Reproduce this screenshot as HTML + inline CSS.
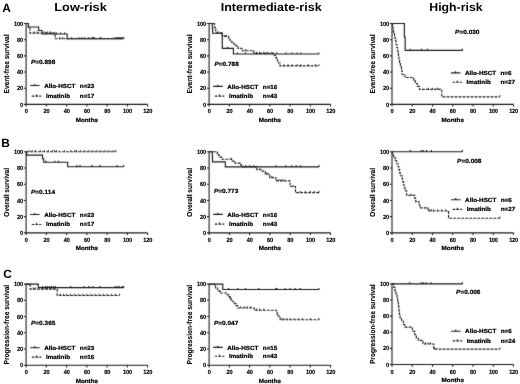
<!DOCTYPE html><html><head><meta charset="utf-8"><style>html,body{margin:0;padding:0;background:#fff;}svg{display:block}</style></head><body>
<svg style="filter:grayscale(1)" width="520" height="384" viewBox="0 0 520 384" font-family="Liberation Sans, sans-serif" font-weight="bold" text-rendering="geometricPrecision">
<rect width="520" height="384" fill="#fff"/>
<defs><filter id="bl" x="0" y="0" width="520" height="384" filterUnits="userSpaceOnUse" color-interpolation-filters="sRGB"><feConvolveMatrix order="3" kernelMatrix="0.0100 0.0800 0.0100 0.0800 0.6400 0.0800 0.0100 0.0800 0.0100" divisor="1" preserveAlpha="false" edgeMode="none"/></filter></defs>
<g filter="url(#bl)">
<path d="M26.1 23.5V106.6M23.9 104.4H147.6M23.9 104.4H26.1M23.9 88.22H26.1M23.9 72.04H26.1M23.9 55.86H26.1M23.9 39.68H26.1M23.9 23.5H26.1M46.35 104.4V106.6M66.6 104.4V106.6M86.85 104.4V106.6M107.1 104.4V106.6M127.35 104.4V106.6M147.6 104.4V106.6" stroke="#1a1a1a" stroke-width="1.08" fill="none"/>
<path d="M26.1 23.5H28.43V26.98H38.66V30.54H42.1V34.02H67.11V38.79H122.79M46.35 34.02v-1.6M50.4 34.02v-1.6M52.42 34.02v-1.6M56.48 34.02v-1.6M60.52 34.02v-1.6M64.58 34.02v-1.6M81.79 38.79v-1.6M88.88 38.79v-1.6M92.93 38.79v-1.6M93.94 38.79v-1.6M101.03 38.79v-1.6M116.21 38.79v-1.6M118.24 38.79v-1.6M120.26 38.79v-1.6M122.79 38.79v-1.6" stroke="#1a1a1a" stroke-width="1.15" fill="none"/>
<path d="M26.1 23.5H28.43V28.27H29.95V33.05H55.16V38.79H123.81" stroke="#1a1a1a" stroke-width="1.15" fill="none" stroke-dasharray="2.8 1.2"/>
<path d="M34.2 33.05v-1.6M37.24 33.05v-1.6M44.33 33.05v-1.6M47.36 33.05v-1.6M50.4 33.05v-1.6M59.51 38.79v-1.6M62.55 38.79v-1.6M71.66 38.79v-1.6M78.75 38.79v-1.6M84.82 38.79v-1.6M91.91 38.79v-1.6M93.94 38.79v-1.6M100.01 38.79v-1.6M114.19 38.79v-1.6M117.22 38.79v-1.6M119.25 38.79v-1.6M121.28 38.79v-1.6M123.81 38.79v-1.6" stroke="#1a1a1a" stroke-width="1.0" fill="none"/>
<path d="M209.1 23.5V106.6M206.9 104.4H330.6M206.9 104.4H209.1M206.9 88.22H209.1M206.9 72.04H209.1M206.9 55.86H209.1M206.9 39.68H209.1M206.9 23.5H209.1M229.35 104.4V106.6M249.6 104.4V106.6M269.85 104.4V106.6M290.1 104.4V106.6M310.35 104.4V106.6M330.6 104.4V106.6" stroke="#1a1a1a" stroke-width="1.08" fill="none"/>
<path d="M209.1 23.5H212.34V28.56H212.64V33.21H222.26V48.42H233.4V54H318.96M227.83 48.42v-1.6M237.45 54v-1.6M245.35 54v-1.6M276.74 54v-1.6M286.05 54v-1.6M292.12 54v-1.6M297.19 54v-1.6M300.73 54v-1.6M318.96 54v-1.6" stroke="#1a1a1a" stroke-width="1.15" fill="none"/>
<path d="M209.1 23.5H214.47V27.3H215.17V29.16H215.78V31.02H216.39V32.88H221.86V34.75H222.47V36.44H228.74V38.39H229.86V40.25H231.38V42.19H233.91V44.05H235.93V45.91H238.06V48.34H241.91V50.76H253.85V53.43H274.2V55.29H275.42V57.24H276.43V59.1H277.44V61.04H278.46V62.98H279.98V65.89H318.96" stroke="#1a1a1a" stroke-width="1.15" fill="none" stroke-dasharray="2.8 1.2"/>
<path d="M218.21 32.88v-1.6M224.29 36.44v-1.6M226.31 36.44v-1.6M245.55 50.76v-1.6M256.69 53.43v-1.6M259.73 53.43v-1.6M263.77 53.43v-1.6M266.81 53.43v-1.6M271.88 53.43v-1.6M284.02 65.89v-1.6M288.07 65.89v-1.6M292.12 65.89v-1.6M297.19 65.89v-1.6M300.73 65.89v-1.6M308.32 65.89v-1.6M315.41 65.89v-1.6M318.96 65.89v-1.6" stroke="#1a1a1a" stroke-width="1.0" fill="none"/>
<path d="M392 23.5V106.6M389.8 104.4H513.5M389.8 104.4H392M389.8 88.22H392M389.8 72.04H392M389.8 55.86H392M389.8 39.68H392M389.8 23.5H392M412.25 104.4V106.6M432.5 104.4V106.6M452.75 104.4V106.6M473 104.4V106.6M493.25 104.4V106.6M513.5 104.4V106.6" stroke="#1a1a1a" stroke-width="1.08" fill="none"/>
<path d="M392 23.5H404.35V37.01H405.16V50.44H462.47M410.23 50.44v-1.6M421.36 50.44v-1.6M427.44 50.44v-1.6M462.47 50.44v-1.6" stroke="#1a1a1a" stroke-width="1.15" fill="none"/>
<path d="M392 23.5H392.51V26.49H393.01V29.49H393.52V32.48H394.53V35.47H395.04V38.47H395.64V41.46H396.05V44.45H396.86V47.45H397.47V50.44H397.87V53.43H398.38V56.43H398.88V59.42H399.59V62.41H400.4V65.49H401.42V68.48H401.92V71.47H402.23V74.47H404.96V77.46H413.77V80.45H415.29V83.45H417.31V86.44H419.34V89.43H441.81V96.88H499.83" stroke="#1a1a1a" stroke-width="1.15" fill="none" stroke-dasharray="2.8 1.2"/>
<path d="M428.45 89.43v-1.6M432.7 89.43v-1.6M437.46 89.43v-1.6M499.83 96.88v-1.6" stroke="#1a1a1a" stroke-width="1.0" fill="none"/>
<path d="M26.1 151.7V235.1M23.9 232.9H147.6M23.9 232.9H26.1M23.9 216.66H26.1M23.9 200.42H26.1M23.9 184.18H26.1M23.9 167.94H26.1M23.9 151.7H26.1M46.35 232.9V235.1M66.6 232.9V235.1M86.85 232.9V235.1M107.1 232.9V235.1M127.35 232.9V235.1M147.6 232.9V235.1" stroke="#1a1a1a" stroke-width="1.08" fill="none"/>
<path d="M26.1 151.7H26.71V155.19H42.5V158.76H43.72V162.26H67.71V166.72H123.71M45.95 162.26v-1.6M54.75 162.26v-1.6M58.5 162.26v-1.6M76.93 166.72v-1.6M79.97 166.72v-1.6M91.91 166.72v-1.6M100.01 166.72v-1.6M117.22 166.72v-1.6M123.71 166.72v-1.6" stroke="#1a1a1a" stroke-width="1.15" fill="none"/>
<path d="M26.1 151.7H115.71" stroke="#1a1a1a" stroke-width="1.15" fill="none" stroke-dasharray="2.8 1.2"/>
<path d="M29.14 151.7v-1.6M32.17 151.7v-1.6M35.21 151.7v-1.6M40.27 151.7v-1.6M44.33 151.7v-1.6M48.38 151.7v-1.6M52.42 151.7v-1.6M54.45 151.7v-1.6M56.48 151.7v-1.6M64.58 151.7v-1.6M70.65 151.7v-1.6M74.7 151.7v-1.6M76.72 151.7v-1.6M80.78 151.7v-1.6M84.82 151.7v-1.6M88.88 151.7v-1.6M92.93 151.7v-1.6M96.97 151.7v-1.6M101.03 151.7v-1.6M105.07 151.7v-1.6M109.12 151.7v-1.6M113.18 151.7v-1.6M115.71 151.7v-1.6" stroke="#1a1a1a" stroke-width="1.0" fill="none"/>
<path d="M209.1 151.7V235.1M206.9 232.9H330.6M206.9 232.9H209.1M206.9 216.66H209.1M206.9 200.42H209.1M206.9 184.18H209.1M206.9 167.94H209.1M206.9 151.7H209.1M229.35 232.9V235.1M249.6 232.9V235.1M269.85 232.9V235.1M290.1 232.9V235.1M310.35 232.9V235.1M330.6 232.9V235.1" stroke="#1a1a1a" stroke-width="1.08" fill="none"/>
<path d="M209.1 151.7H212.34V156.77H212.54V161.85H225.3V166.92H319.06M275.82 166.92v-1.6M285.75 166.92v-1.6M291.82 166.92v-1.6M296.18 166.92v-1.6M300.53 166.92v-1.6M319.06 166.92v-1.6" stroke="#1a1a1a" stroke-width="1.15" fill="none"/>
<path d="M209.1 151.7H217.2V153.57H218.72V155.52H220.24V157.38H221.86V159.25H231.58V161.12H235.02V163.07H240.59V164.94H241.5V166.8H256.79V169.73H262.26V171.19H265.39V174.19H269.75V177.68H275.82V180.93H290V186.53H295.47V192.62H319.06" stroke="#1a1a1a" stroke-width="1.15" fill="none" stroke-dasharray="2.8 1.2"/>
<path d="M231.27 159.25v-1.6M245.55 166.8v-1.6M249.6 166.8v-1.6M253.65 166.8v-1.6M259.73 169.73v-1.6M266.81 174.19v-1.6M271.88 177.68v-1.6M277.95 180.93v-1.6M279.98 180.93v-1.6M282 180.93v-1.6M284.02 180.93v-1.6M293.14 186.53v-1.6M300.23 192.62v-1.6M305.29 192.62v-1.6M310.35 192.62v-1.6M314.4 192.62v-1.6M319.06 192.62v-1.6" stroke="#1a1a1a" stroke-width="1.0" fill="none"/>
<path d="M392 151.7V235.1M389.8 232.9H513.5M389.8 232.9H392M389.8 216.66H392M389.8 200.42H392M389.8 184.18H392M389.8 167.94H392M389.8 151.7H392M412.25 232.9V235.1M432.5 232.9V235.1M452.75 232.9V235.1M473 232.9V235.1M493.25 232.9V235.1M513.5 232.9V235.1" stroke="#1a1a1a" stroke-width="1.08" fill="none"/>
<path d="M392 151.7H462.47M410.43 151.7v-1.6M421.36 151.7v-1.6M423.29 151.7v-1.6M426.43 151.7v-1.6M431.39 151.7v-1.6M462.47 151.7v-1.6" stroke="#1a1a1a" stroke-width="1.15" fill="none"/>
<path d="M392 151.7H392.3V154.7H393.52V157.71H395.34V160.71H396.56V163.72H398.07V166.72H398.88V169.73H399.59V172.73H400.3V175.74H402.12V178.74H402.63V181.74H403.54V184.75H404.15V187.75H404.96V190.76H406.68V195.3H414.78V198.39H415.69V201.56H419.03V204.72H419.84V207.81H428.05V210.98H448.6V218.28H499.93" stroke="#1a1a1a" stroke-width="1.15" fill="none" stroke-dasharray="2.8 1.2"/>
<path d="M411.24 195.3v-1.6M429.46 210.98v-1.6M431.49 210.98v-1.6M433.51 210.98v-1.6M437.56 210.98v-1.6M441.61 210.98v-1.6M445.66 210.98v-1.6M499.93 218.28v-1.6" stroke="#1a1a1a" stroke-width="1.0" fill="none"/>
<path d="M26.1 284.1V367.4M23.9 365.2H147.6M23.9 365.2H26.1M23.9 348.98H26.1M23.9 332.76H26.1M23.9 316.54H26.1M23.9 300.32H26.1M23.9 284.1H26.1M46.35 365.2V367.4M66.6 365.2V367.4M86.85 365.2V367.4M107.1 365.2V367.4M127.35 365.2V367.4M147.6 365.2V367.4" stroke="#1a1a1a" stroke-width="1.08" fill="none"/>
<path d="M26.1 284.1H38.25V287.63H123.71M42.3 287.63v-1.6M45.34 287.63v-1.6M47.36 287.63v-1.6M49.39 287.63v-1.6M51.41 287.63v-1.6M53.44 287.63v-1.6M55.46 287.63v-1.6M70.65 287.63v-1.6M83.81 287.63v-1.6M88.88 287.63v-1.6M92.93 287.63v-1.6M100.01 287.63v-1.6M115.2 287.63v-1.6M117.22 287.63v-1.6M119.25 287.63v-1.6M122.29 287.63v-1.6M123.71 287.63v-1.6" stroke="#1a1a1a" stroke-width="1.15" fill="none"/>
<path d="M26.1 284.1H30.15V289.17H57.18V295.45H119.55" stroke="#1a1a1a" stroke-width="1.15" fill="none" stroke-dasharray="2.8 1.2"/>
<path d="M33.19 289.17v-1.6M35.21 289.17v-1.6M42.3 289.17v-1.6M45.34 289.17v-1.6M47.36 289.17v-1.6M50.4 289.17v-1.6M53.44 289.17v-1.6M60.52 295.45v-1.6M63.56 295.45v-1.6M66.6 295.45v-1.6M70.65 295.45v-1.6M74.7 295.45v-1.6M78.75 295.45v-1.6M82.8 295.45v-1.6M86.85 295.45v-1.6M90.9 295.45v-1.6M94.95 295.45v-1.6M99 295.45v-1.6M103.05 295.45v-1.6M107.1 295.45v-1.6M111.15 295.45v-1.6M115.2 295.45v-1.6M119.55 295.45v-1.6" stroke="#1a1a1a" stroke-width="1.0" fill="none"/>
<path d="M209.1 284.1V367.4M206.9 365.2H330.6M206.9 365.2H209.1M206.9 348.98H209.1M206.9 332.76H209.1M206.9 316.54H209.1M206.9 300.32H209.1M206.9 284.1H209.1M229.35 365.2V367.4M249.6 365.2V367.4M269.85 365.2V367.4M290.1 365.2V367.4M310.35 365.2V367.4M330.6 365.2V367.4" stroke="#1a1a1a" stroke-width="1.08" fill="none"/>
<path d="M209.1 284.1H222.77V289.53H319.06M228.54 289.53v-1.6M237.75 289.53v-1.6M245.45 289.53v-1.6M258.71 289.53v-1.6M275.93 289.53v-1.6M276.94 289.53v-1.6M285.04 289.53v-1.6M290.1 289.53v-1.6M295.16 289.53v-1.6M300.23 289.53v-1.6M319.06 289.53v-1.6" stroke="#1a1a1a" stroke-width="1.15" fill="none"/>
<path d="M209.1 284.1H214.57V285.97H215.58V287.91H217.5V289.78H219.22V291.4H220.54V293.02H227.32V294.81H228.84V296.67H229.86V298.29H230.97V299.91H232.79V301.7H234.41V303.56H235.93V305.59H237.75V308.02H254.26V310.21H276.53V312.49H277.14V314.11H277.75V315.73H278.96V317.76H280.18V319.78H319.06" stroke="#1a1a1a" stroke-width="1.15" fill="none" stroke-dasharray="2.8 1.2"/>
<path d="M230.36 298.29v-1.6M240.49 308.02v-1.6M244.54 308.02v-1.6M247.57 308.02v-1.6M250.61 308.02v-1.6M256.69 310.21v-1.6M259.73 310.21v-1.6M263.77 310.21v-1.6M282 319.78v-1.6M284.02 319.78v-1.6M287.06 319.78v-1.6M290.1 319.78v-1.6M294.15 319.78v-1.6M298.2 319.78v-1.6M302.25 319.78v-1.6M310.35 319.78v-1.6M319.06 319.78v-1.6" stroke="#1a1a1a" stroke-width="1.0" fill="none"/>
<path d="M392 283.9V366.7M389.8 364.5H513.5M389.8 364.5H392M389.8 348.38H392M389.8 332.26H392M389.8 316.14H392M389.8 300.02H392M389.8 283.9H392M412.25 364.5V366.7M432.5 364.5V366.7M452.75 364.5V366.7M473 364.5V366.7M493.25 364.5V366.7M513.5 364.5V366.7" stroke="#1a1a1a" stroke-width="1.08" fill="none"/>
<path d="M392 283.9H462.47M409.72 283.9v-1.6M421.36 283.9v-1.6M423.39 283.9v-1.6M426.12 283.9v-1.6M431.18 283.9v-1.6M462.47 283.9v-1.6" stroke="#1a1a1a" stroke-width="1.15" fill="none"/>
<path d="M392 283.9H393.92V287.53H395.04V290.83H396.05V294.22H397.06V297.68H397.67V300.99H398.28V304.37H398.78V307.76H399.09V311.14H399.39V314.53H400.1V317.91H401.62V321.22H403.44V324.68H404.86V327.18H412.35V331.37H414.78V334.76H416.3V338.22H418.32V340.32H422.98V344.03H433.82V349.19H499.93" stroke="#1a1a1a" stroke-width="1.15" fill="none" stroke-dasharray="2.8 1.2"/>
<path d="M425.41 344.03v-1.6M427.94 344.03v-1.6M430.48 344.03v-1.6M434.52 349.19v-1.6M499.93 349.19v-1.6" stroke="#1a1a1a" stroke-width="1.0" fill="none"/>
<path d="M30.2 85.5h9.5M34.8 85.5v-1.6" stroke="#1a1a1a" stroke-width="1.15" fill="none"/>
<path d="M31.8 96.1h9.5" stroke="#1a1a1a" stroke-width="1.15" fill="none" stroke-dasharray="2.6 1.1"/>
<path d="M36.5 96.1v-1.6" stroke="#1a1a1a" stroke-width="1" fill="none"/>
<path d="M213.2 86.3h9.5M217.8 86.3v-1.6" stroke="#1a1a1a" stroke-width="1.15" fill="none"/>
<path d="M214.8 96.1h9.5" stroke="#1a1a1a" stroke-width="1.15" fill="none" stroke-dasharray="2.6 1.1"/>
<path d="M219.5 96.1v-1.6" stroke="#1a1a1a" stroke-width="1" fill="none"/>
<path d="M450.9 72.8h9.5M455.5 72.8v-1.6" stroke="#1a1a1a" stroke-width="1.15" fill="none"/>
<path d="M452.5 82.2h9.5" stroke="#1a1a1a" stroke-width="1.15" fill="none" stroke-dasharray="2.6 1.1"/>
<path d="M457.2 82.2v-1.6" stroke="#1a1a1a" stroke-width="1" fill="none"/>
<path d="M30.2 214.5h9.5M34.8 214.5v-1.6" stroke="#1a1a1a" stroke-width="1.15" fill="none"/>
<path d="M31.8 224.5h9.5" stroke="#1a1a1a" stroke-width="1.15" fill="none" stroke-dasharray="2.6 1.1"/>
<path d="M36.5 224.5v-1.6" stroke="#1a1a1a" stroke-width="1" fill="none"/>
<path d="M213.2 214.4h9.5M217.8 214.4v-1.6" stroke="#1a1a1a" stroke-width="1.15" fill="none"/>
<path d="M214.8 224.1h9.5" stroke="#1a1a1a" stroke-width="1.15" fill="none" stroke-dasharray="2.6 1.1"/>
<path d="M219.5 224.1v-1.6" stroke="#1a1a1a" stroke-width="1" fill="none"/>
<path d="M451.1 199.7h9.5M455.7 199.7v-1.6" stroke="#1a1a1a" stroke-width="1.15" fill="none"/>
<path d="M452.7 209.4h9.5" stroke="#1a1a1a" stroke-width="1.15" fill="none" stroke-dasharray="2.6 1.1"/>
<path d="M457.4 209.4v-1.6" stroke="#1a1a1a" stroke-width="1" fill="none"/>
<path d="M30.2 347.7h9.5M34.8 347.7v-1.6" stroke="#1a1a1a" stroke-width="1.15" fill="none"/>
<path d="M31.8 357.1h9.5" stroke="#1a1a1a" stroke-width="1.15" fill="none" stroke-dasharray="2.6 1.1"/>
<path d="M36.5 357.1v-1.6" stroke="#1a1a1a" stroke-width="1" fill="none"/>
<path d="M213.2 347.3h9.5M217.8 347.3v-1.6" stroke="#1a1a1a" stroke-width="1.15" fill="none"/>
<path d="M214.8 356.2h9.5" stroke="#1a1a1a" stroke-width="1.15" fill="none" stroke-dasharray="2.6 1.1"/>
<path d="M219.5 356.2v-1.6" stroke="#1a1a1a" stroke-width="1" fill="none"/>
<path d="M451.1 331.2h9.5M455.7 331.2v-1.6" stroke="#1a1a1a" stroke-width="1.15" fill="none"/>
<path d="M452.7 340.9h9.5" stroke="#1a1a1a" stroke-width="1.15" fill="none" stroke-dasharray="2.6 1.1"/>
<path d="M457.4 340.9v-1.6" stroke="#1a1a1a" stroke-width="1" fill="none"/>
</g>
<g>
<text x="2.2" y="12" font-size="11.9">A</text>
<text x="1.2" y="147.2" font-size="11.9">B</text>
<text x="3.2" y="277.8" font-size="11.9">C</text>
<text transform="translate(54.3 11.1) scale(1.1 1)" font-size="11.6">Low-risk</text>
<text transform="translate(220.7 11.1) scale(1.08 1)" font-size="11.6">Intermediate-risk</text>
<text transform="translate(429.3 11.1) scale(1.06 1)" font-size="11.6">High-risk</text>
<text transform="translate(23 106.5) scale(0.92 1)" font-size="6.1" text-anchor="end" letter-spacing="-0.15" stroke="#000" stroke-width="0.15">0</text>
<text transform="translate(23 90.32) scale(0.92 1)" font-size="6.1" text-anchor="end" letter-spacing="-0.15" stroke="#000" stroke-width="0.15">20</text>
<text transform="translate(23 74.14) scale(0.92 1)" font-size="6.1" text-anchor="end" letter-spacing="-0.15" stroke="#000" stroke-width="0.15">40</text>
<text transform="translate(23 57.96) scale(0.92 1)" font-size="6.1" text-anchor="end" letter-spacing="-0.15" stroke="#000" stroke-width="0.15">60</text>
<text transform="translate(23 41.78) scale(0.92 1)" font-size="6.1" text-anchor="end" letter-spacing="-0.15" stroke="#000" stroke-width="0.15">80</text>
<text transform="translate(23 25.6) scale(0.92 1)" font-size="6.1" text-anchor="end" letter-spacing="-0.15" stroke="#000" stroke-width="0.15">100</text>
<text transform="translate(26.2 113.4) scale(0.92 1)" font-size="6.1" text-anchor="middle" letter-spacing="-0.15" stroke="#000" stroke-width="0.15">0</text>
<text transform="translate(46.45 113.4) scale(0.92 1)" font-size="6.1" text-anchor="middle" letter-spacing="-0.15" stroke="#000" stroke-width="0.15">20</text>
<text transform="translate(66.7 113.4) scale(0.92 1)" font-size="6.1" text-anchor="middle" letter-spacing="-0.15" stroke="#000" stroke-width="0.15">40</text>
<text transform="translate(86.95 113.4) scale(0.92 1)" font-size="6.1" text-anchor="middle" letter-spacing="-0.15" stroke="#000" stroke-width="0.15">60</text>
<text transform="translate(107.2 113.4) scale(0.92 1)" font-size="6.1" text-anchor="middle" letter-spacing="-0.15" stroke="#000" stroke-width="0.15">80</text>
<text transform="translate(127.45 113.4) scale(0.92 1)" font-size="6.1" text-anchor="middle" letter-spacing="-0.15" stroke="#000" stroke-width="0.15">100</text>
<text transform="translate(147.7 113.4) scale(0.92 1)" font-size="6.1" text-anchor="middle" letter-spacing="-0.15" stroke="#000" stroke-width="0.15">120</text>
<text transform="translate(86.85 121.8) scale(1.07 1)" font-size="5.9" text-anchor="middle" stroke="#000" stroke-width="0.22">Months</text>
<text transform="translate(9.1 63.95) rotate(-90) scale(1 1.1)" font-size="6.6" text-anchor="middle" stroke="#000" stroke-width="0.1">Event-free survival</text>
<text transform="translate(206 106.5) scale(0.92 1)" font-size="6.1" text-anchor="end" letter-spacing="-0.15" stroke="#000" stroke-width="0.15">0</text>
<text transform="translate(206 90.32) scale(0.92 1)" font-size="6.1" text-anchor="end" letter-spacing="-0.15" stroke="#000" stroke-width="0.15">20</text>
<text transform="translate(206 74.14) scale(0.92 1)" font-size="6.1" text-anchor="end" letter-spacing="-0.15" stroke="#000" stroke-width="0.15">40</text>
<text transform="translate(206 57.96) scale(0.92 1)" font-size="6.1" text-anchor="end" letter-spacing="-0.15" stroke="#000" stroke-width="0.15">60</text>
<text transform="translate(206 41.78) scale(0.92 1)" font-size="6.1" text-anchor="end" letter-spacing="-0.15" stroke="#000" stroke-width="0.15">80</text>
<text transform="translate(206 25.6) scale(0.92 1)" font-size="6.1" text-anchor="end" letter-spacing="-0.15" stroke="#000" stroke-width="0.15">100</text>
<text transform="translate(209.2 113.4) scale(0.92 1)" font-size="6.1" text-anchor="middle" letter-spacing="-0.15" stroke="#000" stroke-width="0.15">0</text>
<text transform="translate(229.45 113.4) scale(0.92 1)" font-size="6.1" text-anchor="middle" letter-spacing="-0.15" stroke="#000" stroke-width="0.15">20</text>
<text transform="translate(249.7 113.4) scale(0.92 1)" font-size="6.1" text-anchor="middle" letter-spacing="-0.15" stroke="#000" stroke-width="0.15">40</text>
<text transform="translate(269.95 113.4) scale(0.92 1)" font-size="6.1" text-anchor="middle" letter-spacing="-0.15" stroke="#000" stroke-width="0.15">60</text>
<text transform="translate(290.2 113.4) scale(0.92 1)" font-size="6.1" text-anchor="middle" letter-spacing="-0.15" stroke="#000" stroke-width="0.15">80</text>
<text transform="translate(310.45 113.4) scale(0.92 1)" font-size="6.1" text-anchor="middle" letter-spacing="-0.15" stroke="#000" stroke-width="0.15">100</text>
<text transform="translate(330.7 113.4) scale(0.92 1)" font-size="6.1" text-anchor="middle" letter-spacing="-0.15" stroke="#000" stroke-width="0.15">120</text>
<text transform="translate(269.85 121.8) scale(1.07 1)" font-size="5.9" text-anchor="middle" stroke="#000" stroke-width="0.22">Months</text>
<text transform="translate(192.1 63.95) rotate(-90) scale(1 1.1)" font-size="6.6" text-anchor="middle" stroke="#000" stroke-width="0.1">Event-free survival</text>
<text transform="translate(388.9 106.5) scale(0.92 1)" font-size="6.1" text-anchor="end" letter-spacing="-0.15" stroke="#000" stroke-width="0.15">0</text>
<text transform="translate(388.9 90.32) scale(0.92 1)" font-size="6.1" text-anchor="end" letter-spacing="-0.15" stroke="#000" stroke-width="0.15">20</text>
<text transform="translate(388.9 74.14) scale(0.92 1)" font-size="6.1" text-anchor="end" letter-spacing="-0.15" stroke="#000" stroke-width="0.15">40</text>
<text transform="translate(388.9 57.96) scale(0.92 1)" font-size="6.1" text-anchor="end" letter-spacing="-0.15" stroke="#000" stroke-width="0.15">60</text>
<text transform="translate(388.9 41.78) scale(0.92 1)" font-size="6.1" text-anchor="end" letter-spacing="-0.15" stroke="#000" stroke-width="0.15">80</text>
<text transform="translate(388.9 25.6) scale(0.92 1)" font-size="6.1" text-anchor="end" letter-spacing="-0.15" stroke="#000" stroke-width="0.15">100</text>
<text transform="translate(392.1 113.4) scale(0.92 1)" font-size="6.1" text-anchor="middle" letter-spacing="-0.15" stroke="#000" stroke-width="0.15">0</text>
<text transform="translate(412.35 113.4) scale(0.92 1)" font-size="6.1" text-anchor="middle" letter-spacing="-0.15" stroke="#000" stroke-width="0.15">20</text>
<text transform="translate(432.6 113.4) scale(0.92 1)" font-size="6.1" text-anchor="middle" letter-spacing="-0.15" stroke="#000" stroke-width="0.15">40</text>
<text transform="translate(452.85 113.4) scale(0.92 1)" font-size="6.1" text-anchor="middle" letter-spacing="-0.15" stroke="#000" stroke-width="0.15">60</text>
<text transform="translate(473.1 113.4) scale(0.92 1)" font-size="6.1" text-anchor="middle" letter-spacing="-0.15" stroke="#000" stroke-width="0.15">80</text>
<text transform="translate(493.35 113.4) scale(0.92 1)" font-size="6.1" text-anchor="middle" letter-spacing="-0.15" stroke="#000" stroke-width="0.15">100</text>
<text transform="translate(513.6 113.4) scale(0.92 1)" font-size="6.1" text-anchor="middle" letter-spacing="-0.15" stroke="#000" stroke-width="0.15">120</text>
<text transform="translate(452.75 121.8) scale(1.07 1)" font-size="5.9" text-anchor="middle" stroke="#000" stroke-width="0.22">Months</text>
<text transform="translate(375 63.95) rotate(-90) scale(1 1.1)" font-size="6.6" text-anchor="middle" stroke="#000" stroke-width="0.1">Event-free survival</text>
<text transform="translate(23 235) scale(0.92 1)" font-size="6.1" text-anchor="end" letter-spacing="-0.15" stroke="#000" stroke-width="0.15">0</text>
<text transform="translate(23 218.76) scale(0.92 1)" font-size="6.1" text-anchor="end" letter-spacing="-0.15" stroke="#000" stroke-width="0.15">20</text>
<text transform="translate(23 202.52) scale(0.92 1)" font-size="6.1" text-anchor="end" letter-spacing="-0.15" stroke="#000" stroke-width="0.15">40</text>
<text transform="translate(23 186.28) scale(0.92 1)" font-size="6.1" text-anchor="end" letter-spacing="-0.15" stroke="#000" stroke-width="0.15">60</text>
<text transform="translate(23 170.04) scale(0.92 1)" font-size="6.1" text-anchor="end" letter-spacing="-0.15" stroke="#000" stroke-width="0.15">80</text>
<text transform="translate(23 153.8) scale(0.92 1)" font-size="6.1" text-anchor="end" letter-spacing="-0.15" stroke="#000" stroke-width="0.15">100</text>
<text transform="translate(26.2 241.9) scale(0.92 1)" font-size="6.1" text-anchor="middle" letter-spacing="-0.15" stroke="#000" stroke-width="0.15">0</text>
<text transform="translate(46.45 241.9) scale(0.92 1)" font-size="6.1" text-anchor="middle" letter-spacing="-0.15" stroke="#000" stroke-width="0.15">20</text>
<text transform="translate(66.7 241.9) scale(0.92 1)" font-size="6.1" text-anchor="middle" letter-spacing="-0.15" stroke="#000" stroke-width="0.15">40</text>
<text transform="translate(86.95 241.9) scale(0.92 1)" font-size="6.1" text-anchor="middle" letter-spacing="-0.15" stroke="#000" stroke-width="0.15">60</text>
<text transform="translate(107.2 241.9) scale(0.92 1)" font-size="6.1" text-anchor="middle" letter-spacing="-0.15" stroke="#000" stroke-width="0.15">80</text>
<text transform="translate(127.45 241.9) scale(0.92 1)" font-size="6.1" text-anchor="middle" letter-spacing="-0.15" stroke="#000" stroke-width="0.15">100</text>
<text transform="translate(147.7 241.9) scale(0.92 1)" font-size="6.1" text-anchor="middle" letter-spacing="-0.15" stroke="#000" stroke-width="0.15">120</text>
<text transform="translate(86.85 250.3) scale(1.07 1)" font-size="5.9" text-anchor="middle" stroke="#000" stroke-width="0.22">Months</text>
<text transform="translate(9.1 192.3) rotate(-90) scale(1 1.1)" font-size="6.55" text-anchor="middle" stroke="#000" stroke-width="0.1">Overall survival</text>
<text transform="translate(206 235) scale(0.92 1)" font-size="6.1" text-anchor="end" letter-spacing="-0.15" stroke="#000" stroke-width="0.15">0</text>
<text transform="translate(206 218.76) scale(0.92 1)" font-size="6.1" text-anchor="end" letter-spacing="-0.15" stroke="#000" stroke-width="0.15">20</text>
<text transform="translate(206 202.52) scale(0.92 1)" font-size="6.1" text-anchor="end" letter-spacing="-0.15" stroke="#000" stroke-width="0.15">40</text>
<text transform="translate(206 186.28) scale(0.92 1)" font-size="6.1" text-anchor="end" letter-spacing="-0.15" stroke="#000" stroke-width="0.15">60</text>
<text transform="translate(206 170.04) scale(0.92 1)" font-size="6.1" text-anchor="end" letter-spacing="-0.15" stroke="#000" stroke-width="0.15">80</text>
<text transform="translate(206 153.8) scale(0.92 1)" font-size="6.1" text-anchor="end" letter-spacing="-0.15" stroke="#000" stroke-width="0.15">100</text>
<text transform="translate(209.2 241.9) scale(0.92 1)" font-size="6.1" text-anchor="middle" letter-spacing="-0.15" stroke="#000" stroke-width="0.15">0</text>
<text transform="translate(229.45 241.9) scale(0.92 1)" font-size="6.1" text-anchor="middle" letter-spacing="-0.15" stroke="#000" stroke-width="0.15">20</text>
<text transform="translate(249.7 241.9) scale(0.92 1)" font-size="6.1" text-anchor="middle" letter-spacing="-0.15" stroke="#000" stroke-width="0.15">40</text>
<text transform="translate(269.95 241.9) scale(0.92 1)" font-size="6.1" text-anchor="middle" letter-spacing="-0.15" stroke="#000" stroke-width="0.15">60</text>
<text transform="translate(290.2 241.9) scale(0.92 1)" font-size="6.1" text-anchor="middle" letter-spacing="-0.15" stroke="#000" stroke-width="0.15">80</text>
<text transform="translate(310.45 241.9) scale(0.92 1)" font-size="6.1" text-anchor="middle" letter-spacing="-0.15" stroke="#000" stroke-width="0.15">100</text>
<text transform="translate(330.7 241.9) scale(0.92 1)" font-size="6.1" text-anchor="middle" letter-spacing="-0.15" stroke="#000" stroke-width="0.15">120</text>
<text transform="translate(269.85 250.3) scale(1.07 1)" font-size="5.9" text-anchor="middle" stroke="#000" stroke-width="0.22">Months</text>
<text transform="translate(192.1 192.3) rotate(-90) scale(1 1.1)" font-size="6.55" text-anchor="middle" stroke="#000" stroke-width="0.1">Overall survival</text>
<text transform="translate(388.9 235) scale(0.92 1)" font-size="6.1" text-anchor="end" letter-spacing="-0.15" stroke="#000" stroke-width="0.15">0</text>
<text transform="translate(388.9 218.76) scale(0.92 1)" font-size="6.1" text-anchor="end" letter-spacing="-0.15" stroke="#000" stroke-width="0.15">20</text>
<text transform="translate(388.9 202.52) scale(0.92 1)" font-size="6.1" text-anchor="end" letter-spacing="-0.15" stroke="#000" stroke-width="0.15">40</text>
<text transform="translate(388.9 186.28) scale(0.92 1)" font-size="6.1" text-anchor="end" letter-spacing="-0.15" stroke="#000" stroke-width="0.15">60</text>
<text transform="translate(388.9 170.04) scale(0.92 1)" font-size="6.1" text-anchor="end" letter-spacing="-0.15" stroke="#000" stroke-width="0.15">80</text>
<text transform="translate(388.9 153.8) scale(0.92 1)" font-size="6.1" text-anchor="end" letter-spacing="-0.15" stroke="#000" stroke-width="0.15">100</text>
<text transform="translate(392.1 241.9) scale(0.92 1)" font-size="6.1" text-anchor="middle" letter-spacing="-0.15" stroke="#000" stroke-width="0.15">0</text>
<text transform="translate(412.35 241.9) scale(0.92 1)" font-size="6.1" text-anchor="middle" letter-spacing="-0.15" stroke="#000" stroke-width="0.15">20</text>
<text transform="translate(432.6 241.9) scale(0.92 1)" font-size="6.1" text-anchor="middle" letter-spacing="-0.15" stroke="#000" stroke-width="0.15">40</text>
<text transform="translate(452.85 241.9) scale(0.92 1)" font-size="6.1" text-anchor="middle" letter-spacing="-0.15" stroke="#000" stroke-width="0.15">60</text>
<text transform="translate(473.1 241.9) scale(0.92 1)" font-size="6.1" text-anchor="middle" letter-spacing="-0.15" stroke="#000" stroke-width="0.15">80</text>
<text transform="translate(493.35 241.9) scale(0.92 1)" font-size="6.1" text-anchor="middle" letter-spacing="-0.15" stroke="#000" stroke-width="0.15">100</text>
<text transform="translate(513.6 241.9) scale(0.92 1)" font-size="6.1" text-anchor="middle" letter-spacing="-0.15" stroke="#000" stroke-width="0.15">120</text>
<text transform="translate(452.75 250.3) scale(1.07 1)" font-size="5.9" text-anchor="middle" stroke="#000" stroke-width="0.22">Months</text>
<text transform="translate(375 192.3) rotate(-90) scale(1 1.1)" font-size="6.55" text-anchor="middle" stroke="#000" stroke-width="0.1">Overall survival</text>
<text transform="translate(23 367.3) scale(0.92 1)" font-size="6.1" text-anchor="end" letter-spacing="-0.15" stroke="#000" stroke-width="0.15">0</text>
<text transform="translate(23 351.08) scale(0.92 1)" font-size="6.1" text-anchor="end" letter-spacing="-0.15" stroke="#000" stroke-width="0.15">20</text>
<text transform="translate(23 334.86) scale(0.92 1)" font-size="6.1" text-anchor="end" letter-spacing="-0.15" stroke="#000" stroke-width="0.15">40</text>
<text transform="translate(23 318.64) scale(0.92 1)" font-size="6.1" text-anchor="end" letter-spacing="-0.15" stroke="#000" stroke-width="0.15">60</text>
<text transform="translate(23 302.42) scale(0.92 1)" font-size="6.1" text-anchor="end" letter-spacing="-0.15" stroke="#000" stroke-width="0.15">80</text>
<text transform="translate(23 286.2) scale(0.92 1)" font-size="6.1" text-anchor="end" letter-spacing="-0.15" stroke="#000" stroke-width="0.15">100</text>
<text transform="translate(26.2 374.2) scale(0.92 1)" font-size="6.1" text-anchor="middle" letter-spacing="-0.15" stroke="#000" stroke-width="0.15">0</text>
<text transform="translate(46.45 374.2) scale(0.92 1)" font-size="6.1" text-anchor="middle" letter-spacing="-0.15" stroke="#000" stroke-width="0.15">20</text>
<text transform="translate(66.7 374.2) scale(0.92 1)" font-size="6.1" text-anchor="middle" letter-spacing="-0.15" stroke="#000" stroke-width="0.15">40</text>
<text transform="translate(86.95 374.2) scale(0.92 1)" font-size="6.1" text-anchor="middle" letter-spacing="-0.15" stroke="#000" stroke-width="0.15">60</text>
<text transform="translate(107.2 374.2) scale(0.92 1)" font-size="6.1" text-anchor="middle" letter-spacing="-0.15" stroke="#000" stroke-width="0.15">80</text>
<text transform="translate(127.45 374.2) scale(0.92 1)" font-size="6.1" text-anchor="middle" letter-spacing="-0.15" stroke="#000" stroke-width="0.15">100</text>
<text transform="translate(147.7 374.2) scale(0.92 1)" font-size="6.1" text-anchor="middle" letter-spacing="-0.15" stroke="#000" stroke-width="0.15">120</text>
<text transform="translate(86.85 382.6) scale(1.07 1)" font-size="5.9" text-anchor="middle" stroke="#000" stroke-width="0.22">Months</text>
<text transform="translate(9.1 324.65) rotate(-90) scale(1 1.1)" font-size="6.62" text-anchor="middle" stroke="#000" stroke-width="0.1">Progression-free survival</text>
<text transform="translate(206 367.3) scale(0.92 1)" font-size="6.1" text-anchor="end" letter-spacing="-0.15" stroke="#000" stroke-width="0.15">0</text>
<text transform="translate(206 351.08) scale(0.92 1)" font-size="6.1" text-anchor="end" letter-spacing="-0.15" stroke="#000" stroke-width="0.15">20</text>
<text transform="translate(206 334.86) scale(0.92 1)" font-size="6.1" text-anchor="end" letter-spacing="-0.15" stroke="#000" stroke-width="0.15">40</text>
<text transform="translate(206 318.64) scale(0.92 1)" font-size="6.1" text-anchor="end" letter-spacing="-0.15" stroke="#000" stroke-width="0.15">60</text>
<text transform="translate(206 302.42) scale(0.92 1)" font-size="6.1" text-anchor="end" letter-spacing="-0.15" stroke="#000" stroke-width="0.15">80</text>
<text transform="translate(206 286.2) scale(0.92 1)" font-size="6.1" text-anchor="end" letter-spacing="-0.15" stroke="#000" stroke-width="0.15">100</text>
<text transform="translate(209.2 374.2) scale(0.92 1)" font-size="6.1" text-anchor="middle" letter-spacing="-0.15" stroke="#000" stroke-width="0.15">0</text>
<text transform="translate(229.45 374.2) scale(0.92 1)" font-size="6.1" text-anchor="middle" letter-spacing="-0.15" stroke="#000" stroke-width="0.15">20</text>
<text transform="translate(249.7 374.2) scale(0.92 1)" font-size="6.1" text-anchor="middle" letter-spacing="-0.15" stroke="#000" stroke-width="0.15">40</text>
<text transform="translate(269.95 374.2) scale(0.92 1)" font-size="6.1" text-anchor="middle" letter-spacing="-0.15" stroke="#000" stroke-width="0.15">60</text>
<text transform="translate(290.2 374.2) scale(0.92 1)" font-size="6.1" text-anchor="middle" letter-spacing="-0.15" stroke="#000" stroke-width="0.15">80</text>
<text transform="translate(310.45 374.2) scale(0.92 1)" font-size="6.1" text-anchor="middle" letter-spacing="-0.15" stroke="#000" stroke-width="0.15">100</text>
<text transform="translate(330.7 374.2) scale(0.92 1)" font-size="6.1" text-anchor="middle" letter-spacing="-0.15" stroke="#000" stroke-width="0.15">120</text>
<text transform="translate(269.85 382.6) scale(1.07 1)" font-size="5.9" text-anchor="middle" stroke="#000" stroke-width="0.22">Months</text>
<text transform="translate(192.1 324.65) rotate(-90) scale(1 1.1)" font-size="6.62" text-anchor="middle" stroke="#000" stroke-width="0.1">Progression-free survival</text>
<text transform="translate(388.9 366.6) scale(0.92 1)" font-size="6.1" text-anchor="end" letter-spacing="-0.15" stroke="#000" stroke-width="0.15">0</text>
<text transform="translate(388.9 350.48) scale(0.92 1)" font-size="6.1" text-anchor="end" letter-spacing="-0.15" stroke="#000" stroke-width="0.15">20</text>
<text transform="translate(388.9 334.36) scale(0.92 1)" font-size="6.1" text-anchor="end" letter-spacing="-0.15" stroke="#000" stroke-width="0.15">40</text>
<text transform="translate(388.9 318.24) scale(0.92 1)" font-size="6.1" text-anchor="end" letter-spacing="-0.15" stroke="#000" stroke-width="0.15">60</text>
<text transform="translate(388.9 302.12) scale(0.92 1)" font-size="6.1" text-anchor="end" letter-spacing="-0.15" stroke="#000" stroke-width="0.15">80</text>
<text transform="translate(388.9 286) scale(0.92 1)" font-size="6.1" text-anchor="end" letter-spacing="-0.15" stroke="#000" stroke-width="0.15">100</text>
<text transform="translate(392.1 373.5) scale(0.92 1)" font-size="6.1" text-anchor="middle" letter-spacing="-0.15" stroke="#000" stroke-width="0.15">0</text>
<text transform="translate(412.35 373.5) scale(0.92 1)" font-size="6.1" text-anchor="middle" letter-spacing="-0.15" stroke="#000" stroke-width="0.15">20</text>
<text transform="translate(432.6 373.5) scale(0.92 1)" font-size="6.1" text-anchor="middle" letter-spacing="-0.15" stroke="#000" stroke-width="0.15">40</text>
<text transform="translate(452.85 373.5) scale(0.92 1)" font-size="6.1" text-anchor="middle" letter-spacing="-0.15" stroke="#000" stroke-width="0.15">60</text>
<text transform="translate(473.1 373.5) scale(0.92 1)" font-size="6.1" text-anchor="middle" letter-spacing="-0.15" stroke="#000" stroke-width="0.15">80</text>
<text transform="translate(493.35 373.5) scale(0.92 1)" font-size="6.1" text-anchor="middle" letter-spacing="-0.15" stroke="#000" stroke-width="0.15">100</text>
<text transform="translate(513.6 373.5) scale(0.92 1)" font-size="6.1" text-anchor="middle" letter-spacing="-0.15" stroke="#000" stroke-width="0.15">120</text>
<text transform="translate(452.75 381.9) scale(1.07 1)" font-size="5.9" text-anchor="middle" stroke="#000" stroke-width="0.22">Months</text>
<text transform="translate(375 324.2) rotate(-90) scale(1 1.1)" font-size="6.62" text-anchor="middle" stroke="#000" stroke-width="0.1">Progression-free survival</text>
<text transform="translate(30.9 64.4) scale(1.08 1)" font-size="6" stroke="#000" stroke-width="0.22"><tspan font-style="italic">P</tspan>=0.898</text>
<text transform="translate(214.4 65.5) scale(1.08 1)" font-size="6" stroke="#000" stroke-width="0.22"><tspan font-style="italic">P</tspan>=0.788</text>
<text transform="translate(455.1 34) scale(1.08 1)" font-size="6" stroke="#000" stroke-width="0.22"><tspan font-style="italic">P</tspan>=0.030</text>
<text transform="translate(31 193.5) scale(1.08 1)" font-size="6" stroke="#000" stroke-width="0.22"><tspan font-style="italic">P</tspan>=0.114</text>
<text transform="translate(213.9 192.7) scale(1.08 1)" font-size="6" stroke="#000" stroke-width="0.22"><tspan font-style="italic">P</tspan>=0.773</text>
<text transform="translate(457.1 162.5) scale(1.08 1)" font-size="6" stroke="#000" stroke-width="0.22"><tspan font-style="italic">P</tspan>=0.008</text>
<text transform="translate(31 325.4) scale(1.08 1)" font-size="6" stroke="#000" stroke-width="0.22"><tspan font-style="italic">P</tspan>=0.365</text>
<text transform="translate(213.9 325.4) scale(1.08 1)" font-size="6" stroke="#000" stroke-width="0.22"><tspan font-style="italic">P</tspan>=0.047</text>
<text transform="translate(456.1 294) scale(1.08 1)" font-size="6" stroke="#000" stroke-width="0.22"><tspan font-style="italic">P</tspan>=0.006</text>
<text transform="translate(44.2 87.7) scale(1.07 1)" font-size="5.9" stroke="#000" stroke-width="0.22">Allo-HSCT</text>
<text transform="translate(45.9 97.9) scale(1.07 1)" font-size="5.9" stroke="#000" stroke-width="0.22">Imatinib</text>
<text transform="translate(79.8 87.7) scale(1.07 1)" font-size="5.9" stroke="#000" stroke-width="0.22">n=23</text>
<text transform="translate(79.8 97.9) scale(1.07 1)" font-size="5.9" stroke="#000" stroke-width="0.22">n=17</text>
<text transform="translate(227.2 88.5) scale(1.07 1)" font-size="5.9" stroke="#000" stroke-width="0.22">Allo-HSCT</text>
<text transform="translate(228.9 97.9) scale(1.07 1)" font-size="5.9" stroke="#000" stroke-width="0.22">Imatinib</text>
<text transform="translate(262.8 88.5) scale(1.07 1)" font-size="5.9" stroke="#000" stroke-width="0.22">n=16</text>
<text transform="translate(262.8 97.9) scale(1.07 1)" font-size="5.9" stroke="#000" stroke-width="0.22">n=43</text>
<text transform="translate(464.9 75) scale(1.07 1)" font-size="5.9" stroke="#000" stroke-width="0.22">Allo-HSCT</text>
<text transform="translate(466.6 84) scale(1.07 1)" font-size="5.9" stroke="#000" stroke-width="0.22">Imatinib</text>
<text transform="translate(500.5 75) scale(1.07 1)" font-size="5.9" stroke="#000" stroke-width="0.22">n=6</text>
<text transform="translate(500.5 84) scale(1.07 1)" font-size="5.9" stroke="#000" stroke-width="0.22">n=27</text>
<text transform="translate(44.2 216.7) scale(1.07 1)" font-size="5.9" stroke="#000" stroke-width="0.22">Allo-HSCT</text>
<text transform="translate(45.9 226.3) scale(1.07 1)" font-size="5.9" stroke="#000" stroke-width="0.22">Imatinib</text>
<text transform="translate(79.8 216.7) scale(1.07 1)" font-size="5.9" stroke="#000" stroke-width="0.22">n=23</text>
<text transform="translate(79.8 226.3) scale(1.07 1)" font-size="5.9" stroke="#000" stroke-width="0.22">n=17</text>
<text transform="translate(227.2 216.6) scale(1.07 1)" font-size="5.9" stroke="#000" stroke-width="0.22">Allo-HSCT</text>
<text transform="translate(228.9 225.9) scale(1.07 1)" font-size="5.9" stroke="#000" stroke-width="0.22">Imatinib</text>
<text transform="translate(262.8 216.6) scale(1.07 1)" font-size="5.9" stroke="#000" stroke-width="0.22">n=16</text>
<text transform="translate(262.8 225.9) scale(1.07 1)" font-size="5.9" stroke="#000" stroke-width="0.22">n=43</text>
<text transform="translate(465.1 201.9) scale(1.07 1)" font-size="5.9" stroke="#000" stroke-width="0.22">Allo-HSCT</text>
<text transform="translate(466.8 211.2) scale(1.07 1)" font-size="5.9" stroke="#000" stroke-width="0.22">Imatinib</text>
<text transform="translate(500.7 201.9) scale(1.07 1)" font-size="5.9" stroke="#000" stroke-width="0.22">n=6</text>
<text transform="translate(500.7 211.2) scale(1.07 1)" font-size="5.9" stroke="#000" stroke-width="0.22">n=27</text>
<text transform="translate(44.2 349.9) scale(1.07 1)" font-size="5.9" stroke="#000" stroke-width="0.22">Allo-HSCT</text>
<text transform="translate(45.9 358.9) scale(1.07 1)" font-size="5.9" stroke="#000" stroke-width="0.22">Imatinib</text>
<text transform="translate(79.8 349.9) scale(1.07 1)" font-size="5.9" stroke="#000" stroke-width="0.22">n=23</text>
<text transform="translate(79.8 358.9) scale(1.07 1)" font-size="5.9" stroke="#000" stroke-width="0.22">n=16</text>
<text transform="translate(227.2 349.5) scale(1.07 1)" font-size="5.9" stroke="#000" stroke-width="0.22">Allo-HSCT</text>
<text transform="translate(228.9 358) scale(1.07 1)" font-size="5.9" stroke="#000" stroke-width="0.22">Imatinib</text>
<text transform="translate(262.8 349.5) scale(1.07 1)" font-size="5.9" stroke="#000" stroke-width="0.22">n=15</text>
<text transform="translate(262.8 358) scale(1.07 1)" font-size="5.9" stroke="#000" stroke-width="0.22">n=43</text>
<text transform="translate(465.1 333.4) scale(1.07 1)" font-size="5.9" stroke="#000" stroke-width="0.22">Allo-HSCT</text>
<text transform="translate(466.8 342.7) scale(1.07 1)" font-size="5.9" stroke="#000" stroke-width="0.22">Imatinib</text>
<text transform="translate(500.7 333.4) scale(1.07 1)" font-size="5.9" stroke="#000" stroke-width="0.22">n=6</text>
<text transform="translate(500.7 342.7) scale(1.07 1)" font-size="5.9" stroke="#000" stroke-width="0.22">n=24</text>
</g>
</svg></body></html>
